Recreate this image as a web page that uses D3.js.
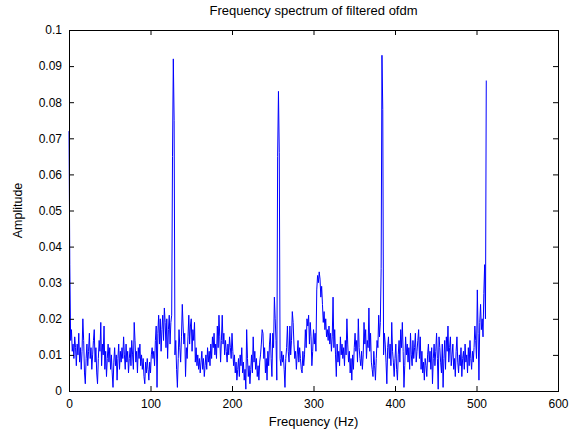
<!DOCTYPE html>
<html>
<head>
<meta charset="utf-8">
<script src="https://cdn.jsdelivr.net/npm/d3@7"></script>
<style>
  html, body { margin: 0; padding: 0; background: #fff; }
  text { font-family: "Liberation Sans", Arial, Helvetica, sans-serif; }
</style>
</head>
<body>
<svg id="chart" width="582" height="432"></svg>
<script>
// Amplitude per 1-Hz bin (0..512 Hz), in thousandths
const amplitudeThousandths = [
  72, 35, 14, 17, 11, 13, 9, 15, 12, 7, 13, 10, 16, 8, 12, 6,
  11, 20, 14, 5, 2, 9, 13, 7, 11, 16, 9, 12, 6, 10, 14, 17,
  8, 12, 5, 2, 9, 14, 11, 19, 7, 13, 10, 18, 6, 11, 4, 9,
  13, 8, 12, 6, 10, 5, 1, 8, 12, 7, 10, 3, 9, 13, 6, 11,
  8, 12, 9, 15, 10, 6, 13, 8, 11, 5, 9, 12, 7, 14, 10, 6,
  19, 14, 8, 11, 5, 12, 9, 13, 7, 10, 6, 9, 4, 2, 8, 5,
  9, 6, 3, 8, 5, 10, 12, 9, 11, 7, 14, 18, 1, 16, 21, 13,
  20, 11, 17, 21, 14, 23, 19, 12, 20, 9, 17, 21, 13, 19, 21, 65,
  92, 75, 10, 14, 6, 1, 9, 17, 12, 8, 15, 24, 18, 13, 16, 4,
  12, 9, 15, 21, 13, 18, 20, 11, 17, 14, 19, 8, 12, 7, 10, 6,
  9, 5, 8, 11, 6, 9, 4, 7, 10, 6, 12, 8, 11, 7, 13, 9,
  15, 12, 16, 10, 13, 9, 18, 12, 21, 15, 8, 14, 21, 13, 16, 10,
  14, 11, 8, 13, 10, 15, 12, 9, 16, 11, 7, 10, 5, 8, 3, 6,
  9, 4, 10, 7, 12, 5, 8, 3, 6, 0.5, 17, 9, 4, 7, 2, 6,
  10, 5, 15, 8, 11, 6, 9, 4, 7, 3, 8, 10, 13, 17, 16, 9,
  12, 5, 9, 3, 11, 7, 13, 16, 9, 4, 16, 12, 26, 20, 14, 3,
  65, 83, 66, 9, 7, 11, 8, 10, 6, 1, 9, 12, 18, 11, 8, 18,
  10, 14, 22, 19, 13, 9, 11, 6, 10, 14, 8, 12, 9, 6, 5, 11,
  7, 10, 17, 12, 20, 18, 21, 13, 19, 15, 7, 11, 17, 13, 16, 11,
  28, 32, 30, 33, 31, 26, 29, 24, 19, 22, 17, 20, 15, 17, 14, 18,
  13, 16, 11, 15, 26, 12, 17, 10, 4, 13, 8, 11, 7, 15, 10, 13,
  9, 12, 7, 14, 10, 20, 13, 8, 11, 5, 9, 3, 10, 6, 12, 16,
  11, 14, 8, 20, 12, 9, 7, 11, 6, 10, 19, 13, 17, 9, 14, 12,
  23, 11, 16, 8, 6, 4, 11, 7, 3, 9, 14, 12, 21, 15, 19, 34,
  93, 78, 10, 16, 13, 8, 2, 12, 15, 9, 13, 7, 19, 11, 8, 4,
  9, 13, 6, 3, 10, 14, 8, 17, 12, 19, 11, 1, 7, 15, 10, 13,
  8, 12, 6, 16, 10, 7, 14, 9, 12, 16, 8, 11, 14, 17, 9, 15,
  6, 11, 5, 8, 3, 9, 7, 4, 10, 13, 8, 11, 6, 12, 2, 9,
  13, 7, 11, 16, 9, 0.5, 15, 12, 8, 5, 13, 1, 9, 14, 6, 15,
  11, 18, 8, 12, 15, 7, 10, 13, 6, 9, 4, 11, 15, 8, 5, 10,
  7, 12, 4, 9, 11, 6, 13, 8, 10, 5, 12, 7, 14, 9, 6, 11,
  8, 12, 18, 14, 9, 28, 16, 3, 19, 24, 17, 20, 15, 27, 35, 20,
  86
];
const binWidthHz = 1;
const xTicks = [0, 100, 200, 300, 400, 500, 600];
const yTicks = [0, 0.01, 0.02, 0.03, 0.04, 0.05, 0.06, 0.07, 0.08, 0.09, 0.1];
const titleText = "Frequency spectrum of filtered ofdm";
const xLabelText = "Frequency (Hz)";
const yLabelText = "Amplitude";

const amplitude = amplitudeThousandths.map(v => v / 1000);
const points = amplitude.map((a, i) => ({ f: i * binWidthHz, a }));

const svg = d3.select("#chart");
const mLeft = 69, mRight = 558, mTop = 30, mBottom = 391;

const x = d3.scaleLinear().domain([0, 600]).range([mLeft, mRight]);
const y = d3.scaleLinear().domain([0, 0.1]).range([mBottom, mTop]);

const fmt = d => d === 0 ? "0" : String(+d.toFixed(2));

// line
svg.append("path")
  .datum(points)
  .attr("fill", "none")
  .attr("stroke", "#0000ff")
  .attr("stroke-width", 1)
  .attr("d", d3.line().x(d => x(d.f)).y(d => y(d.a)));

function styleAxis(g) {
  g.selectAll("path").attr("stroke", "#000");
  g.selectAll("line").attr("stroke", "#000");
  g.selectAll("text").attr("fill", "#000").style("font-size", "12px")
    .style("font-family", '"Liberation Sans", Arial, sans-serif');
}

// bottom axis
svg.append("g").attr("transform", `translate(0,${mBottom})`)
  .call(d3.axisBottom(x).tickValues(xTicks).tickFormat(d3.format("d"))
    .tickSizeInner(-5).tickSizeOuter(0).tickPadding(8))
  .call(styleAxis);
// top axis
svg.append("g").attr("transform", `translate(0,${mTop})`)
  .call(d3.axisTop(x).tickValues(xTicks).tickFormat("")
    .tickSizeInner(-5).tickSizeOuter(0))
  .call(styleAxis);
// left axis
svg.append("g").attr("transform", `translate(${mLeft},0)`)
  .call(d3.axisLeft(y).tickValues(yTicks).tickFormat(fmt)
    .tickSizeInner(-5).tickSizeOuter(0).tickPadding(7))
  .call(styleAxis);
// right axis
svg.append("g").attr("transform", `translate(${mRight},0)`)
  .call(d3.axisRight(y).tickValues(yTicks).tickFormat("")
    .tickSizeInner(-5).tickSizeOuter(0))
  .call(styleAxis);

svg.selectAll(".domain").attr("shape-rendering", "crispEdges");

// title & labels
svg.append("text").attr("x", (mLeft + mRight) / 2).attr("y", 15)
  .attr("text-anchor", "middle").style("font-size", "13px").text(titleText);
svg.append("text").attr("x", (mLeft + mRight) / 2).attr("y", 426)
  .attr("text-anchor", "middle").style("font-size", "13px").text(xLabelText);
svg.append("text")
  .attr("transform", `translate(22,${(mTop + mBottom) / 2}) rotate(-90)`)
  .attr("text-anchor", "middle").style("font-size", "12.5px").text(yLabelText);
</script>
</body>
</html>
